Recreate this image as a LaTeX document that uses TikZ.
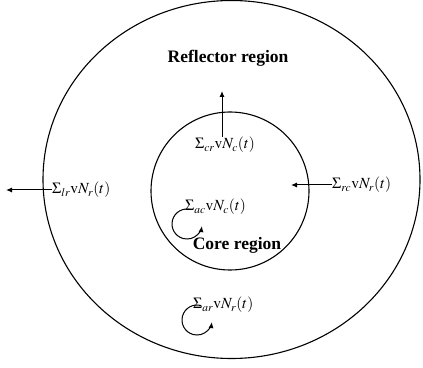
\documentclass[tikz,border=0pt]{standalone}
\usepackage{mathptmx}
\usepackage[no-math]{fontspec}
\setmainfont{Liberation Serif}
\usetikzlibrary{arrows.meta}
\begin{document}
\begin{tikzpicture}[x=1pt,y=1pt,
  region/.style={draw, line width=1.1pt},
  flux/.style={font=\fontsize{15.5}{17}\selectfont, inner sep=0pt},
  regname/.style={font=\bfseries\fontsize{17.5}{19}\selectfont, inner sep=0pt},
  arr/.style={line width=1pt, -{Latex[length=6pt,width=5pt]}}]
\useasboundingbox (0,0) rectangle (423,367);
\draw[region] (231.5,187.5) ellipse [x radius=188.5, y radius=179];
\draw[region] (230,176) circle [radius=79];
\node[regname] (refl) at (228,309) {Reflector region};
\node[regname] (core) at (237,122) {Core region};
% leakage from core to reflector
\node[flux, anchor=west] (cr) at (195,222) {$\Sigma_{cr}\mathrm{v}N_c(t)$};
\coordinate (crbase) at (222,230);
\coordinate (crtip) at (222,276);
\draw[arr] (crbase) -- (crtip);
% leakage out of reflector
\node[flux, anchor=west] (lr) at (52,177) {$\Sigma_{lr}\mathrm{v}N_r(t)$};
\coordinate (lrtip) at (6,177);
\draw[arr] (lr.west) -- (lrtip);
% reflector to core
\node[flux, anchor=west] (rc) at (332,182) {$\Sigma_{rc}\mathrm{v}N_r(t)$};
\coordinate (rctip) at (291,182);
\draw[arr] (rc.west) -- (rctip);
% absorption in core
\node[flux, anchor=west] (ac) at (185,160) {$\Sigma_{ac}\mathrm{v}N_c(t)$};
\coordinate (acC) at (187,143);
\draw[arr] ([shift={(75:15)}]acC) arc[start angle=75, end angle=352, radius=15];
% absorption in reflector
\node[flux, anchor=west] (ar) at (193,62) {$\Sigma_{ar}\mathrm{v}N_r(t)$};
\coordinate (arC) at (197,47);
\draw[arr] ([shift={(75:15)}]arC) arc[start angle=75, end angle=352, radius=15];
\end{tikzpicture}
\end{document}
